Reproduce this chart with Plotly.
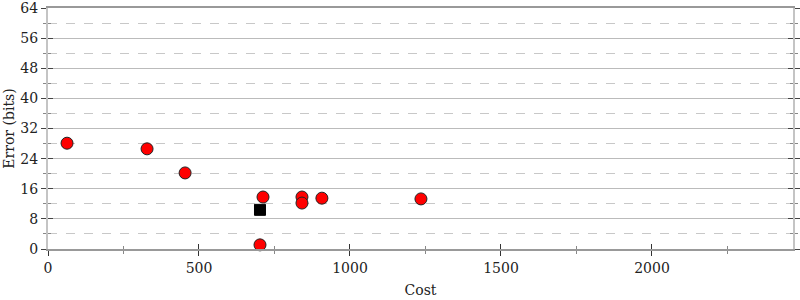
import plotly.graph_objects as go

cost = [63, 328, 454, 712, 841, 841, 907, 1235, 702]
error_bits = [28.1, 26.6, 20.2, 13.8, 13.8, 12.2, 13.5, 13.3, 1.1]
best_cost = [702]
best_error = [10.4]

FONT = "DejaVu Serif"
XR = [0, 2467]
YR = [0, 64]

fig = go.Figure()
fig.add_trace(go.Scatter(x=cost, y=error_bits, mode="markers",
                         marker=dict(color="#ff0000", size=12, line=dict(color="#222222", width=1)),
                         showlegend=False, cliponaxis=False))
fig.add_trace(go.Scatter(x=best_cost, y=best_error, mode="markers",
                         marker=dict(color="#000000", size=11, symbol="square", line=dict(color="#000000", width=1)),
                         showlegend=False, cliponaxis=False))

fig.update_layout(
    width=800, height=300,
    margin=dict(l=48, r=7, t=8, b=51),
    paper_bgcolor="white", plot_bgcolor="white",
    font=dict(family=FONT, size=14, color="#222222"),
    xaxis=dict(range=XR, dtick=500, tick0=0, showgrid=False, zeroline=False, automargin=False,
               showline=True, linecolor="#999999", linewidth=2, mirror=True,
               ticks="outside", ticklen=5, tickcolor="#333333", tickwidth=1,
               ticklabeloverflow="allow",
               minor=dict(dtick=250, ticks="outside", ticklen=3, tickcolor="#888888"),
               title=dict(text="Cost", font=dict(family=FONT, size=14), standoff=10)),
    yaxis=dict(range=YR, dtick=8, tick0=0, showgrid=True, gridcolor="#bbbbbb", gridwidth=1,
               automargin=False, ticklabeloverflow="allow",
               zeroline=False, showline=True, linecolor="#c4c4c4", linewidth=2, mirror="allticks",
               ticks="outside", ticklen=5, tickcolor="#444444",
               minor=dict(dtick=4, ticks="outside", ticklen=3, tickcolor="#888888",
                          showgrid=True, gridcolor="#c8c8c8", griddash="dash", gridwidth=1),
               title=dict(text="Error (bits)", font=dict(family=FONT, size=14), standoff=2)),
    xaxis2=dict(overlaying="x", matches="x", range=XR, dtick=500, tick0=0, showgrid=False,
                zeroline=False, showticklabels=False, ticks="inside", ticklen=5,
                tickcolor="#333333", minor=dict(dtick=250, ticks="inside", ticklen=3, tickcolor="#888888")),
    yaxis2=dict(overlaying="y", matches="y", range=YR, dtick=8, tick0=0, showgrid=False,
                zeroline=False, showticklabels=False, mirror="allticks", showline=False,
                ticks="inside", ticklen=5, tickcolor="#444444",
                minor=dict(dtick=4, ticks="inside", ticklen=3, tickcolor="#888888")),
)
fig.add_trace(go.Scatter(x=[None], y=[None], xaxis="x2", yaxis="y2", showlegend=False, hoverinfo="skip"))

fig.write_html("out.html")
